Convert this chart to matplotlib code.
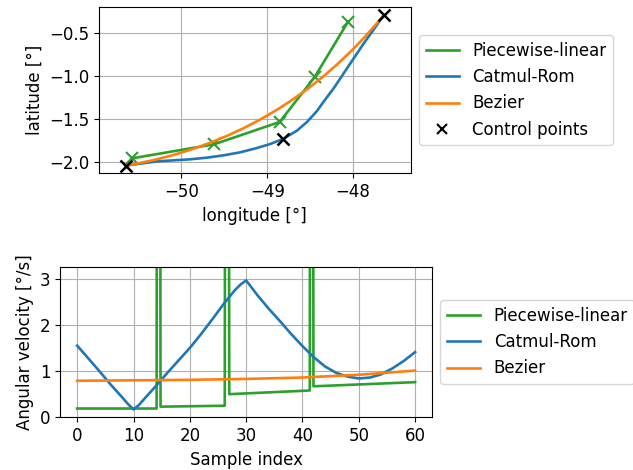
import matplotlib
matplotlib.use("Agg")
import matplotlib.pyplot as plt
from matplotlib.path import Path
from matplotlib.patches import PathPatch
from matplotlib.lines import Line2D

plt.rcParams['font.size'] = 12

# ---------------- data ----------------
ctrl_lon = [-50.651, -48.819, -47.642]
ctrl_lat = [-2.039, -1.729, -0.287]

pw_lon = [-50.573, -49.619, -48.856, -48.450, -48.063]
pw_lat = [-1.953, -1.790, -1.531, -1.012, -0.372]

cr_lon = [-50.651, -50.293, -49.903, -49.708, -49.513, -49.318, -49.123, -48.967,
          -48.819, -48.655, -48.538, -48.421, -48.344, -48.227, -48.110, -47.993,
          -47.876, -47.759, -47.642]
cr_lat = [-2.039, -1.989, -1.965, -1.946, -1.919, -1.884, -1.834, -1.787,
          -1.729, -1.632, -1.531, -1.403, -1.295, -1.140, -0.965, -0.791,
          -0.617, -0.454, -0.287]

# angular velocity
pw_idx = [0, 14.1, 14.45, 14.8, 26.2, 26.6, 27.0, 41.3, 41.6, 41.95, 60]
pw_vel = [0.19, 0.19, 40.0, 0.23, 0.25, 40.0, 0.50, 0.58, 40.0, 0.67, 0.76]

cr_idx = [0, 2, 4, 6, 8, 9, 10, 11, 12, 14, 16, 18, 20, 22, 24, 26, 28, 29, 30,
          31, 32, 34, 36, 38, 40, 42, 44, 46, 48, 50, 52, 54, 56, 58, 60]
cr_vel = [1.55, 1.27, 0.99, 0.70, 0.43, 0.29, 0.17, 0.27, 0.41, 0.68, 0.96, 1.23,
          1.50, 1.80, 2.12, 2.45, 2.75, 2.87, 2.96, 2.80, 2.64, 2.35, 2.08, 1.80,
          1.54, 1.30, 1.10, 0.96, 0.88, 0.84, 0.86, 0.93, 1.06, 1.22, 1.41]

bz_idx = [0, 10, 20, 30, 40, 50, 60]
bz_vel = [0.79, 0.80, 0.81, 0.83, 0.86, 0.92, 1.01]

GREEN, BLUE, ORANGE = '#2ca02c', '#1f77b4', '#ff7f0e'
LW = 1.9

fig = plt.figure(figsize=(6.33, 4.70), dpi=100)

# ---------------- top panel ----------------
ax1 = fig.add_axes([99/633, 1 - 173.3/470, 311.7/633, 166/470])
ax1.plot(pw_lon, pw_lat, color=GREEN, lw=LW, zorder=2)
ax1.plot(pw_lon, pw_lat, ls='none', marker='x', ms=9, mew=1.5, color=GREEN, zorder=2)
ax1.plot(cr_lon, cr_lat, color=BLUE, lw=LW, zorder=2)
bez = Path(list(zip(ctrl_lon, ctrl_lat)), [Path.MOVETO, Path.CURVE3, Path.CURVE3])
ax1.add_patch(PathPatch(bez, facecolor='none', edgecolor=ORANGE, lw=LW, zorder=2))
ax1.plot(ctrl_lon, ctrl_lat, ls='none', marker='x', ms=9, mew=1.8, color='black', zorder=3)
ax1.set_xlim(-50.96, -47.33)
ax1.set_ylim(-2.127, -0.199)
ax1.set_xticks([-50, -49, -48])
ax1.set_yticks([-2.0, -1.5, -1.0, -0.5])
ax1.grid(True)
ax1.set_xlabel('longitude [°]')
ax1.set_ylabel('latitude [°]')
handles1 = [Line2D([], [], color=GREEN, lw=LW),
            Line2D([], [], color=BLUE, lw=LW),
            Line2D([], [], color=ORANGE, lw=LW),
            Line2D([], [], ls='none', marker='x', ms=6.5, mew=1.5, color='black')]
ax1.legend(handles1, ['Piecewise-linear', 'Catmul-Rom', 'Bezier', 'Control points'],
           loc='center left', bbox_to_anchor=(1, 0.5))

# ---------------- bottom panel ----------------
ax2 = fig.add_axes([60.3/633, 1 - 417.3/470, 371.7/633, 150.3/470])
ax2.plot(pw_idx, pw_vel, color=GREEN, lw=LW, label='Piecewise-linear')
ax2.plot(cr_idx, cr_vel, color=BLUE, lw=LW, label='Catmul-Rom')
ax2.plot(bz_idx, bz_vel, color=ORANGE, lw=LW, label='Bezier')
ax2.set_xlim(-3, 63)
ax2.set_ylim(0, 3.25)
ax2.set_xticks([0, 10, 20, 30, 40, 50, 60])
ax2.set_yticks([0, 1, 2, 3])
ax2.grid(True)
ax2.set_xlabel('Sample index')
ax2.set_ylabel('Angular velocity [°/s]')
ax2.legend(loc='center left', bbox_to_anchor=(1, 0.5))

fig.savefig('out.png', dpi=100)
